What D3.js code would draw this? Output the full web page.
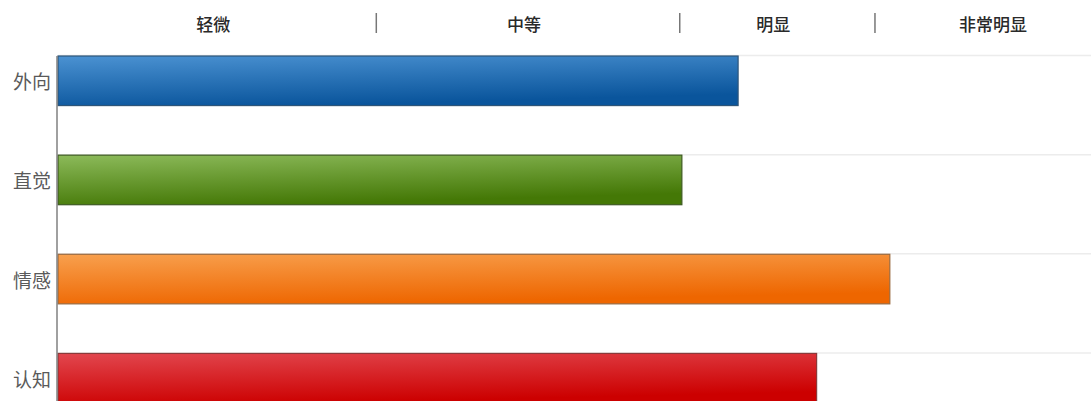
<!DOCTYPE html>
<html><head><meta charset="utf-8">
<script src="https://cdn.jsdelivr.net/npm/d3@7"></script>
<style>
html,body{margin:0;padding:0;background:#fff;}
svg{display:block;font-family:"Noto Sans CJK SC","Noto Sans",sans-serif;}
</style></head>
<body>
<svg id="chart" width="1091" height="401"></svg>
<script>
const categories = ["外向", "直觉", "情感", "认知"];
const values = [64.1, 58.8, 78.4, 71.5];
const levelLabels = ["轻微", "中等", "明显", "非常明显"];
const levelBounds = [0, 30, 58.6, 77, 100];
const colorsLight = ["#4b92d2", "#8cba5a", "#f8a04e", "#e2474f"];
const colorsDark = ["#0a559c", "#447806", "#ee6600", "#cc0000"];
const strokes = ["#2e5578", "#3e5a22", "#9a6a40", "#8a3a3a"];

const W = 1091, H = 401;
const svg = d3.select("#chart");
const x = d3.scaleLinear().domain([0, 100]).range([58, 1119]);
const y = d3.scaleBand().domain(categories).range([56, 403]).paddingInner(0.5).paddingOuter(0).align(0);

const defs = svg.append("defs");
categories.forEach((c, i) => {
  const g = defs.append("linearGradient").attr("id", "g" + i)
    .attr("x1", 0).attr("y1", 0).attr("x2", 0.35).attr("y2", 1);
  g.append("stop").attr("offset", "0%").attr("stop-color", colorsLight[i]);
  g.append("stop").attr("offset", "100%").attr("stop-color", colorsDark[i]);
});

// gridlines
svg.append("g").selectAll("line").data(categories).join("line")
  .attr("x1", 58).attr("x2", W)
  .attr("y1", d => y(d) - 0.5).attr("y2", d => y(d) - 0.5)
  .attr("stroke", "#ececec").attr("stroke-width", 1.5);

// bars
svg.append("g").selectAll("rect").data(categories).join("rect")
  .attr("x", x(0))
  .attr("y", d => y(d))
  .attr("width", (d, i) => x(values[i]) - x(0))
  .attr("height", y.bandwidth())
  .attr("fill", (d, i) => `url(#g${i})`)
  .attr("stroke", (d, i) => strokes[i])
  .attr("stroke-width", 1.2);

// y axis line
svg.append("line").attr("x1", 57).attr("x2", 57).attr("y1", 56).attr("y2", H)
  .attr("stroke", "#808080").attr("stroke-width", 1.5);

// category labels
svg.append("g").selectAll("text").data(categories).join("text")
  .attr("x", 51).attr("y", d => y(d) + y.bandwidth() / 2)
  .attr("text-anchor", "end").attr("dominant-baseline", "central")
  .attr("font-size", 19).attr("fill", "#5a5a5a")
  .text(d => d);

// level labels
svg.append("g").selectAll("text").data(levelLabels).join("text")
  .attr("x", (d, i) => x((levelBounds[i] + levelBounds[i + 1]) / 2) - 4)
  .attr("y", 23)
  .attr("text-anchor", "middle").attr("dominant-baseline", "central")
  .attr("font-size", 17).attr("fill", "#2a2a2a").attr("font-weight", 500)
  .text(d => d);

// separators
svg.append("g").selectAll("line").data(levelBounds.slice(1, -1)).join("line")
  .attr("x1", d => x(d)).attr("x2", d => x(d))
  .attr("y1", 13).attr("y2", 33)
  .attr("stroke", "#777").attr("stroke-width", 1.5);
</script>
</body></html>
